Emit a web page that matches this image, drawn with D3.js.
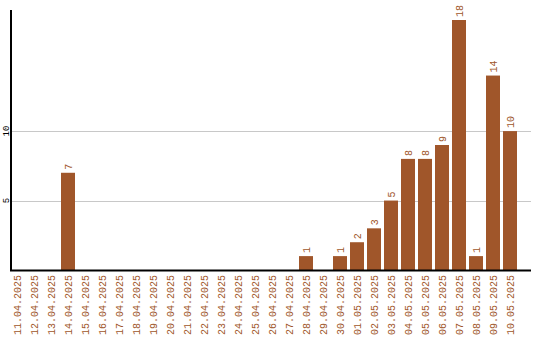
<!DOCTYPE html>
<html>
<head>
<meta charset="utf-8">
<script src="https://cdn.jsdelivr.net/npm/d3@7"></script>
<style>
  body { margin: 0; background: #fff; }
  text { font-family: "Liberation Mono", "DejaVu Sans Mono", monospace; }
</style>
</head>
<body>
<div id="chart"></div>
<script>
// data
var dates = ["11.04.2025", "12.04.2025", "13.04.2025", "14.04.2025", "15.04.2025", "16.04.2025",
  "17.04.2025", "18.04.2025", "19.04.2025", "20.04.2025", "21.04.2025", "22.04.2025",
  "23.04.2025", "24.04.2025", "25.04.2025", "26.04.2025", "27.04.2025", "28.04.2025",
  "29.04.2025", "30.04.2025", "01.05.2025", "02.05.2025", "03.05.2025", "04.05.2025",
  "05.05.2025", "06.05.2025", "07.05.2025", "08.05.2025", "09.05.2025", "10.05.2025"];
var counts = [0, 0, 0, 7, 0, 0, 0, 0, 0, 0, 0, 0, 0, 0, 0, 0, 0, 1, 0, 1, 2, 3, 5, 8, 8, 9, 18, 1, 14, 10];
var yTicks = [5, 10];

var svgWidth = 540;
var svgHeight = 340;
var barColor = "#a0562a";

var data = dates.map(function(d, i) { return {date: d, value: counts[i]}; });

var svg = d3.select("#chart")
    .append("svg")
    .attr("width", svgWidth)
    .attr("height", svgHeight);

// scales
var xScale = d3.scaleBand()
    .domain(dates)
    .range([10, 517])
    .paddingInner(3 / 17)
    .paddingOuter(0);

var yScale = d3.scaleLinear()
    .domain([0, d3.max(counts) * 1.04])
    .range([270, 10]);

// grid lines
svg.selectAll(".grid")
    .data(yTicks)
    .enter()
    .append("line")
    .attr("class", "grid")
    .attr("x1", 11)
    .attr("x2", 531)
    .attr("y1", d => Math.round(yScale(d)) + 0.5)
    .attr("y2", d => Math.round(yScale(d)) + 0.5)
    .attr("stroke", "#c8c8c8")
    .attr("stroke-width", 1);

// y tick labels, rotated
svg.selectAll(".ytick")
    .data(yTicks)
    .enter()
    .append("text")
    .attr("class", "ytick")
    .attr("transform", d => `translate(6, ${yScale(d)}) rotate(-90)`)
    .attr("text-anchor", "middle")
    .attr("dy", "0.35em")
    .attr("font-size", "9px")
    .attr("fill", "#000")
    .text(d => d);

// bars
svg.selectAll(".bar")
    .data(data)
    .enter()
    .append("rect")
    .attr("class", "bar")
    .attr("x", d => xScale(d.date))
    .attr("width", xScale.bandwidth())
    .attr("y", d => yScale(d.value))
    .attr("height", d => yScale(0) - yScale(d.value))
    .attr("fill", barColor);

// value labels above bars
svg.selectAll(".val")
    .data(data.filter(d => d.value > 0))
    .enter()
    .append("text")
    .attr("class", "val")
    .attr("transform", d => `translate(${xScale(d.date) + xScale.bandwidth() / 2}, ${yScale(d.value) - 3}) rotate(-90)`)
    .attr("text-anchor", "start")
    .attr("dy", "0.35em")
    .attr("font-size", "10px")
    .attr("fill", barColor)
    .text(d => d.value);

// x labels
svg.selectAll(".xlab")
    .data(dates)
    .enter()
    .append("text")
    .attr("class", "xlab")
    .attr("transform", d => `translate(${xScale(d) + xScale.bandwidth() / 2}, 275) rotate(-90)`)
    .attr("text-anchor", "end")
    .attr("dy", "0.35em")
    .attr("font-size", "10px")
    .attr("fill", barColor)
    .text(d => d);

// axis lines
svg.append("line")
    .attr("x1", 11).attr("x2", 11)
    .attr("y1", 10).attr("y2", 271)
    .attr("stroke", "#000")
    .attr("stroke-width", 2);
svg.append("line")
    .attr("x1", 10).attr("x2", 531)
    .attr("y1", 270.5).attr("y2", 270.5)
    .attr("stroke", "#000")
    .attr("stroke-width", 2);
</script>
</body>
</html>
